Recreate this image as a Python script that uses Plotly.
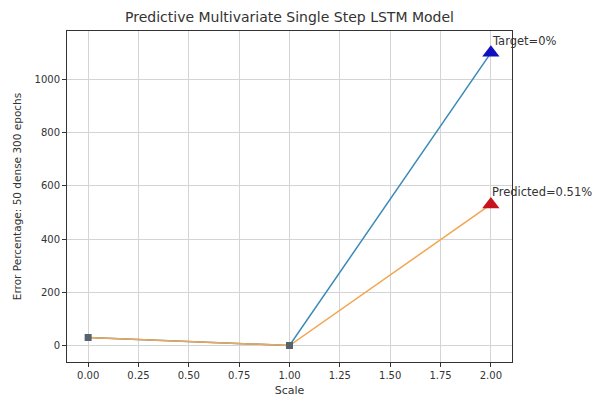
import plotly.graph_objects as go

scale = [0.0, 1.0, 2.0]
target_error = [30, 0, 1100]
predicted_error = [30, 0, 530]
x_ticks = [0.0, 0.25, 0.5, 0.75, 1.0, 1.25, 1.5, 1.75, 2.0]
x_tick_text = ["0.00", "0.25", "0.50", "0.75", "1.00", "1.25", "1.50", "1.75", "2.00"]
y_ticks = [0, 200, 400, 600, 800, 1000]
target_label = "Target=0%"
predicted_label = "Predicted=0.51%"

fig = go.Figure()
fig.add_trace(go.Scatter(x=scale, y=target_error, mode="lines",
                         line=dict(color="#3a8ab8", width=1.5), showlegend=False))
fig.add_trace(go.Scatter(x=scale, y=predicted_error, mode="lines",
                         line=dict(color="#f3a550", width=1.5), showlegend=False))
fig.add_trace(go.Scatter(x=scale[:2], y=target_error[:2], mode="markers",
                         marker=dict(symbol="square", size=7, color="#56626e"),
                         showlegend=False))
fig.add_trace(go.Scatter(x=[scale[2]], y=[target_error[2]], mode="markers",
                         marker=dict(symbol="triangle-up", size=15, color="#1010c0"),
                         showlegend=False))
fig.add_trace(go.Scatter(x=[scale[2]], y=[predicted_error[2]], mode="markers",
                         marker=dict(symbol="triangle-up", size=15, color="#c8141e"),
                         showlegend=False))

for y, txt in [(target_error[2], target_label), (predicted_error[2], predicted_label)]:
    fig.add_annotation(x=scale[2], y=y, text=txt, showarrow=False,
                       xanchor="left", yanchor="bottom", xshift=-1, yshift=3,
                       font=dict(size=11.5, color="#333"))

axis_common = dict(showline=True, mirror=True, linecolor="#333", linewidth=1,
                   showgrid=True, gridcolor="#d4d4d4", gridwidth=1,
                   ticks="outside", ticklen=4, tickcolor="#333",
                   tickfont=dict(size=10, color="#333"), zeroline=False,
                   automargin=False)

fig.update_layout(
    width=599, height=402,
    margin=dict(l=67, r=87, t=31, b=40),
    paper_bgcolor="white", plot_bgcolor="white",
    font=dict(family="DejaVu Sans", color="#333"),
    title=dict(text="Predictive Multivariate Single Step LSTM Model",
               x=0.5, xanchor="center", xref="paper", y=0.958, yanchor="middle",
               font=dict(size=14, color="#333")),
    xaxis=dict(range=[-0.105, 2.105], tickvals=x_ticks, ticktext=x_tick_text,
               title=dict(text="Scale", font=dict(size=11), standoff=6), **axis_common),
    yaxis=dict(range=[-62, 1182], tickvals=y_ticks,
               title=dict(text="Error Percentage: 50 dense 300 epochs",
                          font=dict(size=10.5), standoff=10), **axis_common),
)

fig.write_html("out.html")
